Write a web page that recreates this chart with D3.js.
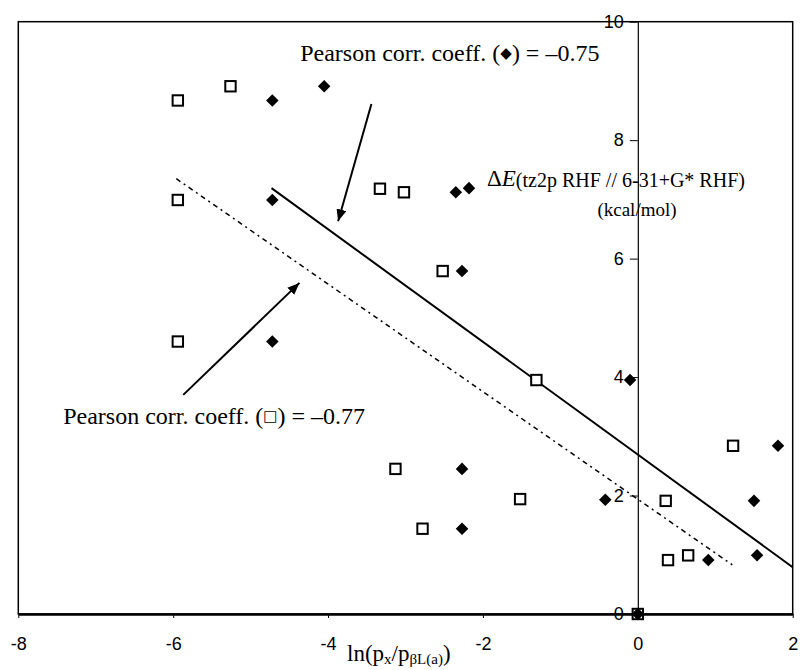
<!DOCTYPE html>
<html>
<head>
<meta charset="utf-8">
<script src="https://cdn.jsdelivr.net/npm/d3@7"></script>
<style>
  html, body { margin: 0; padding: 0; background: #fff; }
  svg { display: block; }
</style>
</head>
<body>
<svg id="chart" width="800" height="670"></svg>
<script>
// ---------- data ----------
const xTicks = [-8, -6, -4, -2, 0, 2];
const yTicks = [0, 2, 4, 6, 8, 10];

// open squares series
const squareX = [-5.94, -5.26, -5.94, -3.33, -3.02, -2.52, -5.94, -1.31, -3.13, -1.52, -2.78, 1.23, 0.36, 0.39, 0.65, 0.0];
const squareY = [8.67, 8.91, 6.99, 7.18, 7.12, 5.79, 4.60, 3.95, 2.45, 1.94, 1.44, 2.84, 1.91, 0.91, 0.99, 0.0];

// filled diamonds series
const diamondX = [-4.72, -4.05, -4.72, -2.35, -2.18, -2.27, -4.72, -0.10, -2.27, -2.27, 1.81, -0.42, 1.50, 0.91, 1.54, 0.0];
const diamondY = [8.67, 8.91, 6.99, 7.12, 7.19, 5.79, 4.60, 3.95, 2.45, 1.44, 2.84, 1.93, 1.91, 0.91, 0.99, 0.0];

// regression lines (end points)
const diamondFitX = [-4.73, 2.0];
const diamondFitY = [7.19, 0.79];
const squareFitX = [-5.96, 1.22];
const squareFitY = [7.35, 0.83];

// annotation arrows (tail -> tip)
const arrowDiamondX = [-3.44, -3.87];
const arrowDiamondY = [8.61, 6.63];
const arrowSquareX = [-5.87, -4.37];
const arrowSquareY = [3.70, 5.59];

// ---------- layout ----------
const svg = d3.select("#chart");
const x = d3.scaleLinear().domain([-8, 2]).range([18.3, 792.7]);
const y = d3.scaleLinear().domain([0, 10]).range([614, 21.7]);

const SANS = "'Liberation Sans', Arial, sans-serif";
const SERIF = "'Liberation Serif', 'Times New Roman', serif";

// frame
svg.append("rect")
  .attr("x", x(-8)).attr("y", y(10))
  .attr("width", x(2) - x(-8)).attr("height", y(0) - y(10))
  .attr("fill", "none").attr("stroke", "#000").attr("stroke-width", 1.5);

// x axis
const xAxis = svg.append("g")
  .attr("transform", `translate(0,${y(0)})`)
  .call(d3.axisBottom(x).tickValues(xTicks).tickFormat(d => String(d))
        .tickSize(4).tickSizeOuter(0).tickPadding(19));
xAxis.select(".domain").attr("stroke-width", 2.5);
xAxis.selectAll("text").attr("font-family", SANS).attr("font-size", 18).attr("fill", "#000");

// y axis at x = 0
const yAxis = svg.append("g")
  .attr("transform", `translate(${x(0)},0)`)
  .call(d3.axisLeft(y).tickValues(yTicks).tickFormat(d => String(d))
        .tickSize(8).tickSizeOuter(0).tickPadding(6));
yAxis.select(".domain").attr("stroke-width", 1.2);
yAxis.selectAll("text").attr("font-family", SANS).attr("font-size", 18).attr("fill", "#000");

// regression lines
const line = d3.line().x(d => x(d[0])).y(d => y(d[1]));
svg.append("path")
  .datum(diamondFitX.map((v, i) => [v, diamondFitY[i]]))
  .attr("d", line).attr("fill", "none").attr("stroke", "#000").attr("stroke-width", 2);
svg.append("path")
  .datum(squareFitX.map((v, i) => [v, squareFitY[i]]))
  .attr("d", line).attr("fill", "none").attr("stroke", "#000").attr("stroke-width", 1.5)
  .attr("stroke-dasharray", "5,4,2,4");

// markers
const squares = squareX.map((v, i) => [v, squareY[i]]);
const diamonds = diamondX.map((v, i) => [v, diamondY[i]]);
svg.append("g").selectAll("rect").data(squares).join("rect")
  .attr("x", d => x(d[0]) - 5.2).attr("y", d => y(d[1]) - 5.2)
  .attr("width", 10.4).attr("height", 10.4)
  .attr("fill", "#fff").attr("stroke", "#000").attr("stroke-width", 2);
const diamondPath = d3.symbol().type(d3.symbolDiamond2).size(100);
svg.append("g").selectAll("path").data(diamonds).join("path")
  .attr("transform", d => `translate(${x(d[0])},${y(d[1])})`)
  .attr("d", diamondPath).attr("fill", "#000");

// arrows
svg.append("defs").append("marker")
  .attr("id", "head").attr("viewBox", "0 0 12 10")
  .attr("refX", 12).attr("refY", 5)
  .attr("markerWidth", 12).attr("markerHeight", 10)
  .attr("markerUnits", "userSpaceOnUse").attr("orient", "auto")
  .append("path").attr("d", "M0,0 L12,5 L0,10 Z").attr("fill", "#000");
[[arrowDiamondX, arrowDiamondY], [arrowSquareX, arrowSquareY]].forEach(([ax, ay]) => {
  svg.append("line")
    .attr("x1", x(ax[0])).attr("y1", y(ay[0]))
    .attr("x2", x(ax[1])).attr("y2", y(ay[1]))
    .attr("stroke", "#000").attr("stroke-width", 2)
    .attr("marker-end", "url(#head)");
});

// annotation texts
function pearson(px, py, sym, val) {
  const t = svg.append("text")
    .attr("x", x(px)).attr("y", y(py))
    .attr("font-family", SERIF).attr("font-size", 24).attr("fill", "#000");
  t.append("tspan").text("Pearson corr. coeff. (");
  t.append("tspan").attr("font-family", "'DejaVu Sans', sans-serif").attr("font-size", 15)
    .attr("dy", -3).text(sym);
  t.append("tspan").attr("dy", 3).text(") = \u2013" + val);
}
pearson(-4.36, 9.33, "\u25C6", "0.75");
pearson(-7.42, 3.21, "\u25A1", "0.77");

// y-axis title (ΔE)
const yt = svg.append("text")
  .attr("x", 487).attr("y", 186)
  .attr("font-family", SERIF).attr("fill", "#000");
yt.append("tspan").attr("font-size", 23).text("\u0394");
yt.append("tspan").attr("font-size", 23).attr("font-style", "italic").text("E");
yt.append("tspan").attr("font-size", 20).attr("dy", 1).text("(tz2p RHF // 6-31+G* RHF)");
svg.append("text")
  .attr("x", 637).attr("y", 216).attr("text-anchor", "middle")
  .attr("font-family", SERIF).attr("font-size", 19).attr("fill", "#000")
  .text("(kcal/mol)");

// x-axis title
const xt = svg.append("text")
  .attr("x", 347).attr("y", 661)
  .attr("font-family", SERIF).attr("font-size", 23).attr("fill", "#000");
xt.append("tspan").text("ln(p");
xt.append("tspan").attr("font-size", 15).attr("dy", 3).text("x");
xt.append("tspan").attr("dy", -3).text("/p");
xt.append("tspan").attr("font-size", 15).attr("dy", 3).text("\u03B2L(a)");
xt.append("tspan").attr("dy", -3).text(")");
</script>
</body>
</html>
